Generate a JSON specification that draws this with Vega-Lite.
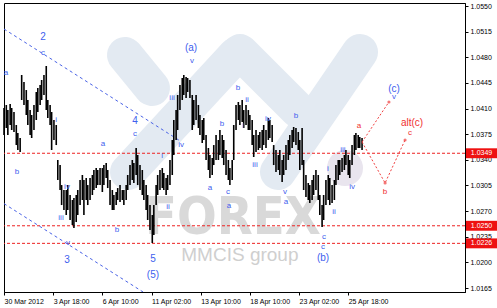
{
"$schema": "https://vega.github.io/schema/vega-lite/v6.json",
"width": 461, "height": 289,
"autosize": {"type": "none"},
"padding": {"left": 4, "top": 3, "right": 32, "bottom": 16},
"background": "white",
"config": {
  "view": {"stroke": "#000", "strokeWidth": 1},
  "axis": {"labelFont": "Liberation Sans", "labelFontSize": 7, "labelColor": "#000", "domainColor": "#000", "tickColor": "#000", "grid": false, "title": null, "tickSize": 3, "labelPadding": 2, "labelOverlap": false, "labelFlush": false}
},
"datasets": {
  "bars": [
{"t":0,"h":1.04108,"l":1.03739},{"t":3,"h":1.04149,"l":1.03835},{"t":5,"h":1.04080,"l":1.03739},{"t":8,"h":1.04162,"l":1.03876},{"t":10,"h":1.04108,"l":1.03807},{"t":13,"h":1.04053,"l":1.03780},{"t":16,"h":1.03876,"l":1.03602},{"t":18,"h":1.03766,"l":1.03534},{"t":21,"h":1.03698,"l":1.03507},{"t":23,"h":1.04558,"l":1.04217},{"t":26,"h":1.04462,"l":1.04149},{"t":29,"h":1.04353,"l":1.04012},{"t":31,"h":1.04217,"l":1.03876},{"t":34,"h":1.04080,"l":1.03739},{"t":36,"h":1.04012,"l":1.03698},{"t":39,"h":1.04149,"l":1.03807},{"t":42,"h":1.04326,"l":1.03944},{"t":44,"h":1.04381,"l":1.04053},{"t":47,"h":1.04422,"l":1.04149},{"t":49,"h":1.04490,"l":1.04217},{"t":52,"h":1.04558,"l":1.04285},{"t":55,"h":1.04681,"l":1.04080},{"t":57,"h":1.04217,"l":1.03971},{"t":60,"h":1.04149,"l":1.03876},{"t":62,"h":1.04053,"l":1.03534},{"t":65,"h":1.03944,"l":1.03671},{"t":68,"h":1.03876,"l":1.03602},{"t":70,"h":1.03398,"l":1.03125},{"t":73,"h":1.03329,"l":1.02988},{"t":75,"h":1.03056,"l":1.02783},{"t":78,"h":1.02988,"l":1.02715},{"t":81,"h":1.02988,"l":1.02647},{"t":83,"h":1.03056,"l":1.02715},{"t":86,"h":1.02920,"l":1.02579},{"t":89,"h":1.02852,"l":1.02510},{"t":91,"h":1.02879,"l":1.02469},{"t":94,"h":1.02920,"l":1.02551},{"t":96,"h":1.02988,"l":1.02647},{"t":99,"h":1.03125,"l":1.02783},{"t":102,"h":1.03193,"l":1.02852},{"t":104,"h":1.03125,"l":1.02647},{"t":107,"h":1.03152,"l":1.02852},{"t":109,"h":1.03056,"l":1.02783},{"t":112,"h":1.03152,"l":1.02852},{"t":115,"h":1.03193,"l":1.02920},{"t":117,"h":1.03261,"l":1.02988},{"t":120,"h":1.03288,"l":1.03015},{"t":122,"h":1.03261,"l":1.03056},{"t":125,"h":1.03288,"l":1.03056},{"t":128,"h":1.03288,"l":1.02961},{"t":130,"h":1.03329,"l":1.03056},{"t":133,"h":1.03357,"l":1.03152},{"t":135,"h":1.03261,"l":1.03015},{"t":138,"h":1.03125,"l":1.02783},{"t":141,"h":1.02988,"l":1.02715},{"t":143,"h":1.02920,"l":1.02715},{"t":146,"h":1.02961,"l":1.02783},{"t":148,"h":1.03015,"l":1.02852},{"t":151,"h":1.03056,"l":1.02824},{"t":154,"h":1.02988,"l":1.02852},{"t":156,"h":1.02988,"l":1.02783},{"t":159,"h":1.03056,"l":1.02852},{"t":161,"h":1.03193,"l":1.02988},{"t":164,"h":1.03329,"l":1.03056},{"t":167,"h":1.03398,"l":1.03125},{"t":169,"h":1.03357,"l":1.03084},{"t":172,"h":1.03562,"l":1.03193},{"t":174,"h":1.03466,"l":1.03056},{"t":177,"h":1.03329,"l":1.02988},{"t":180,"h":1.03261,"l":1.02920},{"t":182,"h":1.03125,"l":1.02852},{"t":185,"h":1.03056,"l":1.02715},{"t":187,"h":1.02920,"l":1.02579},{"t":190,"h":1.02783,"l":1.02442},{"t":193,"h":1.02647,"l":1.02265},{"t":195,"h":1.02783,"l":1.02374},{"t":198,"h":1.03056,"l":1.02783},{"t":200,"h":1.03193,"l":1.02920},{"t":203,"h":1.03261,"l":1.02988},{"t":206,"h":1.03288,"l":1.03015},{"t":208,"h":1.03220,"l":1.02988},{"t":211,"h":1.03152,"l":1.02920},{"t":213,"h":1.03193,"l":1.02988},{"t":216,"h":1.03398,"l":1.03056},{"t":219,"h":1.03671,"l":1.03193},{"t":221,"h":1.03944,"l":1.03466},{"t":224,"h":1.04080,"l":1.03671},{"t":226,"h":1.04285,"l":1.03807},{"t":229,"h":1.04422,"l":1.04080},{"t":232,"h":1.04517,"l":1.04217},{"t":234,"h":1.04558,"l":1.04285},{"t":237,"h":1.04531,"l":1.04244},{"t":239,"h":1.04517,"l":1.04326},{"t":242,"h":1.04490,"l":1.04244},{"t":245,"h":1.04285,"l":1.03807},{"t":247,"h":1.04217,"l":1.03876},{"t":250,"h":1.04285,"l":1.03944},{"t":253,"h":1.04149,"l":1.03835},{"t":255,"h":1.04012,"l":1.03739},{"t":258,"h":1.03944,"l":1.03630},{"t":260,"h":1.03971,"l":1.03671},{"t":263,"h":1.03739,"l":1.03398},{"t":266,"h":1.03562,"l":1.03261},{"t":268,"h":1.03466,"l":1.03152},{"t":271,"h":1.03425,"l":1.03193},{"t":273,"h":1.03602,"l":1.03329},{"t":276,"h":1.03739,"l":1.03398},{"t":279,"h":1.03671,"l":1.03398},{"t":281,"h":1.03807,"l":1.03466},{"t":284,"h":1.03739,"l":1.03425},{"t":286,"h":1.03671,"l":1.03329},{"t":289,"h":1.03534,"l":1.03193},{"t":292,"h":1.03398,"l":1.03125},{"t":294,"h":1.03288,"l":1.03056},{"t":297,"h":1.03398,"l":1.03125},{"t":299,"h":1.03876,"l":1.03398},{"t":302,"h":1.04149,"l":1.03807},{"t":305,"h":1.04190,"l":1.03944},{"t":307,"h":1.04149,"l":1.03876},{"t":310,"h":1.04217,"l":1.03916},{"t":312,"h":1.04080,"l":1.03835},{"t":315,"h":1.04149,"l":1.03876},{"t":318,"h":1.04080,"l":1.03807},{"t":320,"h":1.04012,"l":1.03807},{"t":323,"h":1.03944,"l":1.03602},{"t":325,"h":1.03739,"l":1.03439},{"t":328,"h":1.03807,"l":1.03507},{"t":331,"h":1.03739,"l":1.03534},{"t":333,"h":1.03780,"l":1.03562},{"t":336,"h":1.03807,"l":1.03534},{"t":338,"h":1.03876,"l":1.03602},{"t":341,"h":1.03807,"l":1.03562},{"t":344,"h":1.03971,"l":1.03671},{"t":346,"h":1.03944,"l":1.03698},{"t":349,"h":1.03876,"l":1.03643},{"t":351,"h":1.03602,"l":1.03329},{"t":354,"h":1.03534,"l":1.03234},{"t":357,"h":1.03466,"l":1.03261},{"t":359,"h":1.03534,"l":1.03193},{"t":362,"h":1.03398,"l":1.03097},{"t":364,"h":1.03466,"l":1.03193},{"t":367,"h":1.03602,"l":1.03261},{"t":370,"h":1.03671,"l":1.03398},{"t":372,"h":1.03739,"l":1.03466},{"t":375,"h":1.03807,"l":1.03562},{"t":377,"h":1.03848,"l":1.03643},{"t":380,"h":1.03835,"l":1.03602},{"t":383,"h":1.03780,"l":1.03534},{"t":385,"h":1.03671,"l":1.03261},{"t":388,"h":1.03835,"l":1.03329},{"t":390,"h":1.03398,"l":1.02988},{"t":393,"h":1.03193,"l":1.02893},{"t":396,"h":1.03084,"l":1.02852},{"t":398,"h":1.03056,"l":1.02811},{"t":401,"h":1.03125,"l":1.02852},{"t":403,"h":1.03193,"l":1.02920},{"t":406,"h":1.03261,"l":1.02988},{"t":409,"h":1.03193,"l":1.02852},{"t":411,"h":1.02920,"l":1.02647},{"t":414,"h":1.02783,"l":1.02483},{"t":416,"h":1.02920,"l":1.02579},{"t":419,"h":1.03125,"l":1.02783},{"t":422,"h":1.03193,"l":1.02852},{"t":424,"h":1.03152,"l":1.02783},{"t":427,"h":1.03056,"l":1.02811},{"t":430,"h":1.03125,"l":1.02852},{"t":432,"h":1.03329,"l":1.03056},{"t":435,"h":1.03398,"l":1.03125},{"t":437,"h":1.03398,"l":1.03193},{"t":440,"h":1.03425,"l":1.03234},{"t":443,"h":1.03466,"l":1.03261},{"t":445,"h":1.03534,"l":1.03329},{"t":448,"h":1.03466,"l":1.03193},{"t":450,"h":1.03398,"l":1.03152},{"t":453,"h":1.03602,"l":1.03329},{"t":456,"h":1.03739,"l":1.03466},{"t":458,"h":1.03766,"l":1.03534},{"t":461,"h":1.03739,"l":1.03562},{"t":463,"h":1.03712,"l":1.03562},{"t":466,"h":1.03698,"l":1.03534}
  ],
  "levels": [{"v":1.0349,"label":"1.0349"},{"v":1.0250,"label":"1.0250"},{"v":1.0226,"label":"1.0226"}],
  "trend": [{"id":"upper","t":0,"v":1.05186},{"id":"upper","t":229,"v":1.0366},{"id":"lower","t":0,"v":1.02802},{"id":"lower","t":181,"v":1.01596}],
  "proj": [{"id":"c","t":466,"v":1.03643},{"id":"c","t":501,"v":1.0419},{"id":"alt","t":466,"v":1.03643},{"id":"alt","t":496,"v":1.03084},{"id":"alt","t":522,"v":1.03671}],
  "tips": [{"t":501,"v":1.0419},{"t":496,"v":1.03084},{"t":522,"v":1.03671}],
  "logo": [{"t1":157.5,"v1":1.04831,"t2":192.6,"v2":1.04381},{"t1":161.4,"v1":1.03234,"t2":302.0,"v2":1.04831},{"t1":307.2,"v1":1.04872,"t2":382.7,"v2":1.0408},{"t1":356.6,"v1":1.03234,"t2":463.4,"v2":1.04872}],
  "minor": [
{"t":50.8,"v":1.04858,"s":"c"},{"t":2.6,"v":1.04585,"s":"a"},{"t":16.9,"v":1.03234,"s":"b"},{"t":67.7,"v":1.03944,"s":"i"},{"t":74.2,"v":1.02606,"s":"iii"},{"t":82.0,"v":1.03029,"s":"iv"},{"t":83.3,"v":1.02265,"s":"v"},{"t":128.9,"v":1.03616,"s":"a"},{"t":147.1,"v":1.02442,"s":"b"},{"t":170.5,"v":1.03753,"s":"c"},{"t":205.7,"v":1.03452,"s":"i"},{"t":213.5,"v":1.02756,"s":"ii"},{"t":218.7,"v":1.04244,"s":"iii"},{"t":230.4,"v":1.03602,"s":"iv"},{"t":244.7,"v":1.04749,"s":"v"},{"t":268.1,"v":1.03015,"s":"a"},{"t":283.7,"v":1.03889,"s":"b"},{"t":291.6,"v":1.02961,"s":"c"},{"t":292.9,"v":1.0277,"s":"a"},{"t":304.6,"v":1.04381,"s":"b"},{"t":316.3,"v":1.04217,"s":"ii"},{"t":311.1,"v":1.03862,"s":"i"},{"t":326.7,"v":1.03329,"s":"iii"},{"t":343.6,"v":1.03957,"s":"iv"},{"t":365.7,"v":1.02961,"s":"v"},{"t":367.1,"v":1.02824,"s":"a"},{"t":380.1,"v":1.03998,"s":"b"},{"t":416.5,"v":1.02347,"s":"c"},{"t":415.2,"v":1.0221,"s":"c"},{"t":421.7,"v":1.03275,"s":"i"},{"t":429.5,"v":1.02688,"s":"ii"},{"t":441.2,"v":1.03534,"s":"iii"},{"t":453.0,"v":1.03029,"s":"iv"},{"t":507.6,"v":1.04258,"s":"v"}
  ],
  "major": [
{"t":50.8,"v":1.05077,"s":"2"},{"t":82.0,"v":1.02033,"s":"3"},{"t":170.5,"v":1.0393,"s":"4"},{"t":193.9,"v":1.02046,"s":"5"},{"t":193.9,"v":1.01828,"s":"(5)"},{"t":243.4,"v":1.04927,"s":"(a)"},{"t":415.2,"v":1.0206,"s":"(b)"},{"t":507.6,"v":1.04367,"s":"(c)"}
  ],
  "redminor": [{"t":462.1,"v":1.03862,"s":"a"},{"t":495.9,"v":1.02961,"s":"b"},{"t":528.5,"v":1.03766,"s":"c"}],
  "redmajor": [{"t":531.1,"v":1.03903,"s":"alt(c)"}]
},
"layer": [
  {
    "data": {"name": "logo"},
    "mark": {"type": "rule", "strokeWidth": 36, "strokeCap": "round", "color": "#e3eaf2"},
    "encoding": {
      "x": {"field": "t1", "type": "quantitative", "scale": {"domain": [0, 600], "nice": false}, "axis": {"orient": "bottom", "values": [0, 64, 128, 192, 256, 320, 384, 448], "tickCount": 20, "labelExpr": "['30 Mar 2012','3 Apr 18:00','6 Apr 10:00','11 Apr 02:00','13 Apr 10:00','18 Apr 10:00','23 Apr 02:00','25 Apr 18:00'][round(datum.value/64)]", "labelAlign": "left", "labelBaseline": "top", "labelFlush": false, "labelOverlap": false, "labelBound": false}},
      "y": {"field": "v1", "type": "quantitative", "scale": {"domain": [1.01596, 1.05541], "nice": false, "zero": false}, "axis": {"orient": "right", "values": [1.0165, 1.02, 1.0235, 1.027, 1.0305, 1.034, 1.0375, 1.041, 1.0445, 1.048, 1.0515, 1.055], "tickCount": 20, "format": ".4f", "labelAlign": "left", "labelBaseline": "middle", "labelFlush": false, "labelOverlap": false, "labelBound": false}},
      "x2": {"field": "t2"},
      "y2": {"field": "v2"}
    }
  },
  {
    "data": {"values": [{"t": 443.8, "v": 1.03288}]},
    "mark": {"type": "point", "shape": "circle", "filled": true, "size": 1300, "color": "#e9e5ee", "opacity": 1},
    "encoding": {
      "x": {"field": "t", "type": "quantitative", "scale": {"domain": [0, 600], "nice": false}},
      "y": {"field": "v", "type": "quantitative", "scale": {"domain": [1.01596, 1.05541], "nice": false, "zero": false}}
    }
  },
  {
    "data": {"values": [{"t": 298, "v": 1.02606, "s": "FOREX"}]},
    "mark": {"type": "text", "font": "DejaVu Sans Condensed", "fontWeight": "bold", "fontSize": 52, "color": "#d9d9d9", "align": "center", "baseline": "middle"},
    "encoding": {
      "x": {"field": "t", "type": "quantitative", "scale": {"domain": [0, 600], "nice": false}},
      "y": {"field": "v", "type": "quantitative", "scale": {"domain": [1.01596, 1.05541], "nice": false, "zero": false}},
      "text": {"field": "s"}
    }
  },
  {
    "data": {"values": [{"t": 307, "v": 1.02101, "s": "MMCIS group"}]},
    "mark": {"type": "text", "font": "Liberation Sans", "fontSize": 19, "color": "#cfcfcf", "align": "center", "baseline": "middle"},
    "encoding": {
      "x": {"field": "t", "type": "quantitative", "scale": {"domain": [0, 600], "nice": false}},
      "y": {"field": "v", "type": "quantitative", "scale": {"domain": [1.01596, 1.05541], "nice": false, "zero": false}},
      "text": {"field": "s"}
    }
  },
  {
    "data": {"name": "levels"},
    "mark": {"type": "rule", "color": "#ee2222", "strokeWidth": 1, "strokeDash": [3, 2]},
    "encoding": {
      "y": {"field": "v", "type": "quantitative", "scale": {"domain": [1.01596, 1.05541], "nice": false, "zero": false}}
    }
  },
  {
    "data": {"name": "trend"},
    "mark": {"type": "line", "color": "#4a63e6", "strokeWidth": 1, "strokeDash": [3, 3], "clip": true},
    "encoding": {
      "x": {"field": "t", "type": "quantitative", "scale": {"domain": [0, 600], "nice": false}},
      "y": {"field": "v", "type": "quantitative", "scale": {"domain": [1.01596, 1.05541], "nice": false, "zero": false}},
      "detail": {"field": "id"}
    }
  },
  {
    "data": {"name": "bars"},
    "mark": {"type": "rule", "color": "#000", "strokeWidth": 1.6},
    "encoding": {
      "x": {"field": "t", "type": "quantitative", "scale": {"domain": [0, 600], "nice": false}},
      "y": {"field": "l", "type": "quantitative", "scale": {"domain": [1.01596, 1.05541], "nice": false, "zero": false}},
      "y2": {"field": "h"}
    }
  },
  {
    "data": {"name": "proj"},
    "mark": {"type": "line", "color": "#f04040", "strokeWidth": 1, "strokeDash": [2, 2]},
    "encoding": {
      "x": {"field": "t", "type": "quantitative", "scale": {"domain": [0, 600], "nice": false}},
      "y": {"field": "v", "type": "quantitative", "scale": {"domain": [1.01596, 1.05541], "nice": false, "zero": false}},
      "detail": {"field": "id"}
    }
  },
  {
    "data": {"name": "tips"},
    "mark": {"type": "point", "shape": "circle", "filled": true, "size": 10, "color": "#f04040"},
    "encoding": {
      "x": {"field": "t", "type": "quantitative", "scale": {"domain": [0, 600], "nice": false}},
      "y": {"field": "v", "type": "quantitative", "scale": {"domain": [1.01596, 1.05541], "nice": false, "zero": false}}
    }
  },
  {
    "data": {"name": "minor"},
    "mark": {"type": "text", "font": "Liberation Sans", "fontSize": 8, "color": "#4060ee", "align": "center", "baseline": "middle"},
    "encoding": {
      "x": {"field": "t", "type": "quantitative", "scale": {"domain": [0, 600], "nice": false}},
      "y": {"field": "v", "type": "quantitative", "scale": {"domain": [1.01596, 1.05541], "nice": false, "zero": false}},
      "text": {"field": "s"}
    }
  },
  {
    "data": {"name": "major"},
    "mark": {"type": "text", "font": "Liberation Sans", "fontSize": 10, "color": "#4060ee", "align": "center", "baseline": "middle"},
    "encoding": {
      "x": {"field": "t", "type": "quantitative", "scale": {"domain": [0, 600], "nice": false}},
      "y": {"field": "v", "type": "quantitative", "scale": {"domain": [1.01596, 1.05541], "nice": false, "zero": false}},
      "text": {"field": "s"}
    }
  },
  {
    "data": {"name": "redminor"},
    "mark": {"type": "text", "font": "Liberation Sans", "fontSize": 8, "color": "#f03030", "align": "center", "baseline": "middle"},
    "encoding": {
      "x": {"field": "t", "type": "quantitative", "scale": {"domain": [0, 600], "nice": false}},
      "y": {"field": "v", "type": "quantitative", "scale": {"domain": [1.01596, 1.05541], "nice": false, "zero": false}},
      "text": {"field": "s"}
    }
  },
  {
    "data": {"name": "redmajor"},
    "mark": {"type": "text", "font": "Liberation Sans", "fontSize": 10, "color": "#f03030", "align": "center", "baseline": "middle"},
    "encoding": {
      "x": {"field": "t", "type": "quantitative", "scale": {"domain": [0, 600], "nice": false}},
      "y": {"field": "v", "type": "quantitative", "scale": {"domain": [1.01596, 1.05541], "nice": false, "zero": false}},
      "text": {"field": "s"}
    }
  },
  {
    "data": {"name": "levels"},
    "mark": {"type": "point", "shape": "M-1,-0.32H1V0.32H-1Z", "filled": true, "size": 961, "color": "#ee1111", "opacity": 1},
    "encoding": {
      "x": {"datum": 621.5, "type": "quantitative", "scale": {"domain": [0, 600], "nice": false}},
      "y": {"field": "v", "type": "quantitative", "scale": {"domain": [1.01596, 1.05541], "nice": false, "zero": false}}
    }
  },
  {
    "data": {"name": "levels"},
    "mark": {"type": "text", "font": "Liberation Sans", "fontSize": 7, "color": "#ffffff", "align": "center", "baseline": "middle"},
    "encoding": {
      "x": {"datum": 621.5, "type": "quantitative", "scale": {"domain": [0, 600], "nice": false}},
      "y": {"field": "v", "type": "quantitative", "scale": {"domain": [1.01596, 1.05541], "nice": false, "zero": false}},
      "text": {"field": "label"}
    }
  }
]
}
